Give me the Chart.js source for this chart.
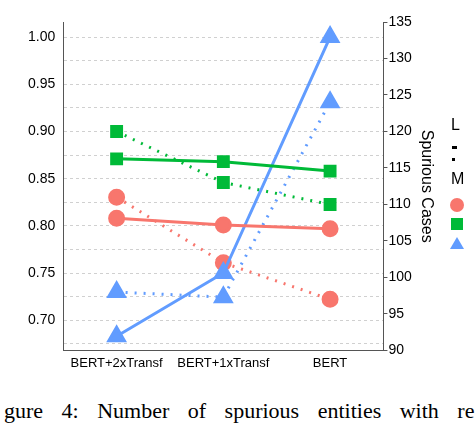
<!DOCTYPE html>
<html><head><meta charset="utf-8">
<script src="https://cdn.jsdelivr.net/npm/chart.js@4"></script>
<style>
body{margin:0;background:#fff;width:476px;height:446px;overflow:hidden;position:relative;font-family:"Liberation Sans",Arial,sans-serif}
#wrap{position:absolute;left:0;top:0;width:476px;height:372px}
.lg{position:absolute;font-size:16px;color:#000}
#cap{position:absolute;left:4px;top:398px;font-family:"Liberation Serif",serif;font-size:22px;word-spacing:13px;white-space:nowrap}
</style></head><body>
<div id="wrap"><canvas id="c"></canvas></div>
<div class="lg" style="left:451px;top:116px">L</div>
<div style="position:absolute;left:452px;top:146px;width:5px;height:3px;background:#000"></div>
<div style="position:absolute;left:452px;top:158px;width:3px;height:3px;background:#000"></div>
<div class="lg" style="left:451px;top:170px">M</div>
<div style="position:absolute;left:450px;top:198px;width:14px;height:14px;border-radius:7px;background:#F8766D"></div>
<div style="position:absolute;left:451px;top:218px;width:12px;height:12px;background:#00BA38"></div>
<div style="position:absolute;left:450px;top:237px;width:0;height:0;border-left:7px solid transparent;border-right:7px solid transparent;border-bottom:12px solid #619CFF"></div>
<div id="cap">gure 4: Number of spurious entities with re</div>
<script>
const models = ["BERT+2xTransf", "BERT+1xTransf", "BERT"];
const redScore = [0.808, 0.801, 0.797];
const greenScore = [0.871, 0.868, 0.858];
const blueScore = [0.683, 0.750, 1.000];
const redSpurious = [111, 102, 97];
const greenSpurious = [120, 113, 110];
const blueSpurious = [98, 97.3, 124];

const RED = "#F8766D", GREEN = "#00BA38", BLUE = "#619CFF";

function solid(data, col, shape) {
    return { data: data, yAxisID: "y", borderColor: col, backgroundColor: col, borderWidth: 3,
        pointStyle: shape, pointRadius: shape === "triangle" ? 9 : 7, pointHoverRadius: 7 };
}
function dotted(data, col, shape) {
    return { data: data, yAxisID: "y1", borderColor: col, backgroundColor: col, borderWidth: 3,
        borderDash: [2, 7], pointStyle: shape, pointRadius: shape === "triangle" ? 9 : 7, pointHoverRadius: 7 };
}

new Chart("c", {
    type: "line",
    data: {
        labels: models,
        datasets: [
            solid(redScore, RED, "circle"),
            solid(greenScore, GREEN, "rect"),
            solid(blueScore, BLUE, "triangle"),
            dotted(redSpurious, RED, "circle"),
            dotted(greenSpurious, GREEN, "rect"),
            dotted(blueSpurious, BLUE, "triangle")
        ]
    },
    options: {
        responsive: true, maintainAspectRatio: false, animation: false,
        layout: { padding: { top: 22, right: 36, left: 20, bottom: 0 } },
        plugins: { legend: { display: false }, tooltip: { enabled: false } },
        scales: {
            x: {
                offset: true,
                grid: { display: false, drawTicks: true, tickLength: 4, color: "#333" },
                border: { color: "#555", width: 1 },
                ticks: { color: "#000", font: { size: 13, family: "Liberation Sans" }, padding: 1, maxRotation: 0 }
            },
            y: {
                position: "left", min: 0.668, max: 1.016,
                afterBuildTicks: ax => { const t = []; for (let v = 0.675; v <= 1.0001; v += 0.025) t.push({ value: +v.toFixed(3) }); ax.ticks = t; },
                grid: { color: "#d0d0d0", tickLength: 0, drawTicks: false },
                border: { color: "#555", dash: [3, 3] },
                ticks: { color: "#000", padding: 8, font: { size: 14, family: "Liberation Sans" },
                    callback: v => (Math.round(v * 1000) % 50 === 0 ? v.toFixed(2) : "") }
            },
            y1: {
                position: "right", min: 90, max: 135,
                grid: { drawOnChartArea: false, tickLength: 4, color: "#555" },
                border: { color: "#555" },
                ticks: { stepSize: 5, color: "#000", padding: 1, font: { size: 14, family: "Liberation Sans" } },
                title: { display: true, text: "Spurious Cases", color: "#000", font: { size: 16, family: "Liberation Sans" }, padding: { top: 4 } }
            }
        }
    }
});
</script>
</body></html>
